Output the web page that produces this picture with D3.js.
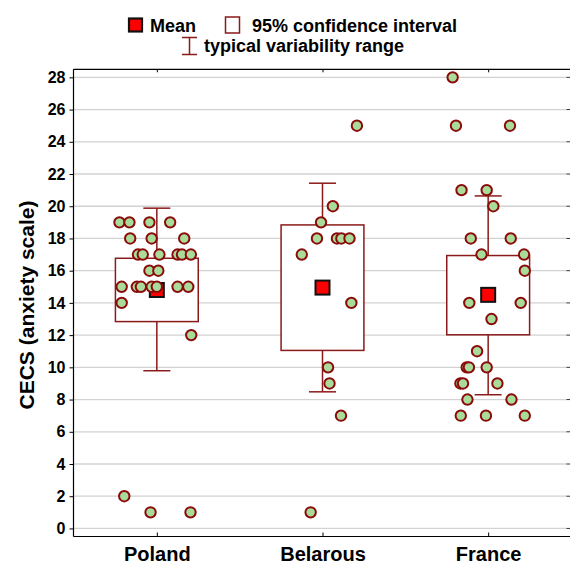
<!DOCTYPE html>
<html>
<head>
<meta charset="utf-8">
<script src="https://cdn.jsdelivr.net/npm/d3@7"></script>
<style>
  body { margin: 0; background: #fff; }
  svg { display: block; font-family: "Liberation Sans", Arial, sans-serif; }
</style>
</head>
<body>
<div id="chart"></div>
<script>
// groups and read-off data
const groups = ['Poland', 'Belarous', 'France'];

const polandValues = [19, 19, 19, 19, 18, 18, 18, 17, 17, 17, 17, 17, 17, 16, 16, 15, 15, 15, 15, 15, 15, 15, 14, 12, 2, 1, 1];
const polandJitter = [-1.01, -0.74, -0.2, 0.36, -0.72, -0.14, 0.74, -0.51, -0.38, 0.07, 0.56, 0.68, 0.92, -0.2, 0.04, -0.95, -0.54, -0.43, -0.14, 0, 0.56, 0.85, -0.95, 0.93, -0.88, -0.17, 0.91];

const belarousValues = [25, 20, 19, 18, 18, 18, 18, 17, 14, 10, 9, 7, 1];
const belarousJitter = [0.93, 0.28, -0.04, -0.15, 0.39, 0.51, 0.73, -0.56, 0.78, 0.15, 0.19, 0.5, -0.32];

const franceValues = [28, 25, 25, 21, 21, 20, 18, 18, 17, 17, 16, 14, 14, 13, 11, 10, 10, 10, 9, 9, 9, 8, 8, 7, 7, 7];
const franceJitter = [-0.96, -0.87, 0.59, -0.72, -0.04, 0.14, -0.47, 0.61, -0.18, 0.97, 0.99, -0.51, 0.88, 0.09, -0.3, -0.58, -0.52, -0.04, -0.75, -0.68, 0.25, -0.56, 0.63, -0.74, -0.06, 0.99];

// summary statistics per group
const means = [14.8, 14.95, 14.5];
const ciLow = [12.84, 11.05, 12.02];
const ciHigh = [16.77, 18.84, 16.94];
const rangeLow = [9.79, 8.48, 8.3];
const rangeHigh = [19.88, 21.43, 20.64];

const yTicks = [0, 2, 4, 6, 8, 10, 12, 14, 16, 18, 20, 22, 24, 26, 28];

const width = 570, height = 565;
const plot = { left: 73.5, right: 570, top: 69.3, bottom: 536.5 };

const boxColor = '#8b1a1a';
const dotStroke = '#8b0a0a';
const dotFill = '#a9dc9b';

const svg = d3.select('#chart')
  .append('svg')
  .attr('width', width)
  .attr('height', height);

const x = d3.scalePoint()
  .domain(groups)
  .range([74, 571])
  .padding(0.5);

const y = d3.scaleLinear()
  .domain([-0.5, 28.5])
  .range([plot.bottom, plot.top]);

const jitter = d3.scaleLinear().domain([-1, 1]).range([-37, 37]);

const step = x.step();

// gridlines
svg.append('g')
  .selectAll('line')
  .data(yTicks)
  .join('line')
  .attr('x1', plot.left)
  .attr('x2', plot.right - 3)
  .attr('y1', d => y(d))
  .attr('y2', d => y(d))
  .attr('stroke', '#d2d2d2')
  .attr('stroke-width', 1.3);

// left axis
const yAxis = svg.append('g')
  .attr('transform', `translate(${plot.left},0)`)
  .call(d3.axisLeft(y).tickValues(yTicks).tickSize(4).tickPadding(4).tickSizeOuter(0));
yAxis.select('.domain').attr('stroke', '#000').attr('stroke-width', 1.2);
yAxis.selectAll('.tick line').attr('stroke', '#000');
yAxis.selectAll('text')
  .style('font-size', '16px')
  .style('font-weight', 'bold')
  .attr('fill', '#000');
yAxis.select('.domain').attr('d', `M0,${plot.top}V${plot.bottom}`);

// right side ticks
svg.append('g')
  .selectAll('line')
  .data(yTicks)
  .join('line')
  .attr('x1', plot.right - 3.5)
  .attr('x2', plot.right)
  .attr('y1', d => y(d))
  .attr('y2', d => y(d))
  .attr('stroke', '#333');

// bottom axis
const xAxis = svg.append('g')
  .attr('transform', `translate(0,${plot.bottom})`)
  .call(d3.axisBottom(x).tickSize(-4).tickSizeOuter(0).tickPadding(10));
xAxis.select('.domain').attr('stroke', '#000').attr('stroke-width', 1.2)
  .attr('d', `M${plot.left},0H${plot.right}`);
xAxis.selectAll('.tick line').attr('stroke', '#000');
xAxis.selectAll('text')
  .style('font-size', '20px')
  .style('font-weight', 'bold')
  .attr('fill', '#000');

// top axis
const topAxis = svg.append('g')
  .attr('transform', `translate(0,${plot.top})`)
  .call(d3.axisTop(x).tickSize(-3).tickSizeOuter(0).tickFormat(''));
topAxis.select('.domain').attr('stroke', '#000').attr('stroke-width', 1.2)
  .attr('d', `M${plot.left},0H${plot.right}`);
topAxis.selectAll('.tick line').attr('stroke', '#000');

// y axis title
svg.append('text')
  .attr('transform', `translate(33.5,305) rotate(-90)`)
  .attr('text-anchor', 'middle')
  .style('font-size', '21px')
  .style('font-weight', 'bold')
  .text('CECS (anxiety scale)');

// boxes (95% confidence interval)
svg.append('g')
  .selectAll('rect')
  .data(groups)
  .join('rect')
  .attr('x', d => x(d) - step / 4)
  .attr('width', step / 2)
  .attr('y', (d, i) => y(ciHigh[i]))
  .attr('height', (d, i) => y(ciLow[i]) - y(ciHigh[i]))
  .attr('fill', '#fff')
  .attr('stroke', boxColor)
  .attr('stroke-width', 1.5);

// whiskers (typical variability range)
const whisk = svg.append('g')
  .attr('stroke', boxColor)
  .attr('stroke-width', 1.5);

groups.forEach((g, i) => {
  const cx = x(g);
  whisk.append('line')
    .attr('x1', cx).attr('x2', cx)
    .attr('y1', y(rangeHigh[i])).attr('y2', y(ciHigh[i]));
  whisk.append('line')
    .attr('x1', cx).attr('x2', cx)
    .attr('y1', y(ciLow[i])).attr('y2', y(rangeLow[i]));
  whisk.append('line')
    .attr('x1', cx - 13.5).attr('x2', cx + 13.5)
    .attr('y1', y(rangeHigh[i])).attr('y2', y(rangeHigh[i]));
  whisk.append('line')
    .attr('x1', cx - 13.5).attr('x2', cx + 13.5)
    .attr('y1', y(rangeLow[i])).attr('y2', y(rangeLow[i]));
});

// means
svg.append('g')
  .selectAll('rect')
  .data(groups)
  .join('rect')
  .attr('x', d => x(d) - 7)
  .attr('y', (d, i) => y(means[i]) - 7)
  .attr('width', 14)
  .attr('height', 14)
  .attr('fill', '#ff0000')
  .attr('stroke', '#111')
  .attr('stroke-width', 2);

// raw points
const allPoints = [];
[[polandValues, polandJitter], [belarousValues, belarousJitter], [franceValues, franceJitter]]
  .forEach((pair, i) => {
    pair[0].forEach((v, j) => {
      allPoints.push({ group: groups[i], value: v, jit: pair[1][j] });
    });
  });

svg.append('g')
  .selectAll('circle')
  .data(allPoints)
  .join('circle')
  .attr('cx', d => x(d.group) + jitter(d.jit))
  .attr('cy', d => y(d.value))
  .attr('r', 5.2)
  .attr('fill', dotFill)
  .attr('stroke', dotStroke)
  .attr('stroke-width', 2);

// legend
const legend = svg.append('g')
  .style('font-size', '18px')
  .style('font-weight', 'bold');

legend.append('rect')
  .attr('x', 129).attr('y', 18.5)
  .attr('width', 13).attr('height', 13)
  .attr('fill', '#ff0000')
  .attr('stroke', '#111')
  .attr('stroke-width', 2.2);
legend.append('text')
  .attr('x', 150).attr('y', 31.5)
  .text('Mean');

legend.append('rect')
  .attr('x', 225.5).attr('y', 17)
  .attr('width', 14).attr('height', 16)
  .attr('fill', '#fff')
  .attr('stroke', boxColor)
  .attr('stroke-width', 1.5);
legend.append('text')
  .attr('x', 252).attr('y', 31.5)
  .text('95% confidence interval');

const icon = legend.append('g')
  .attr('stroke', boxColor)
  .attr('stroke-width', 1.5);
icon.append('line').attr('x1', 182).attr('x2', 197).attr('y1', 37.5).attr('y2', 37.5);
icon.append('line').attr('x1', 182).attr('x2', 197).attr('y1', 54.5).attr('y2', 54.5);
icon.append('line').attr('x1', 189.5).attr('x2', 189.5).attr('y1', 37.5).attr('y2', 54.5);
legend.append('text')
  .attr('x', 204).attr('y', 52)
  .text('typical variability range');
</script>
</body>
</html>
